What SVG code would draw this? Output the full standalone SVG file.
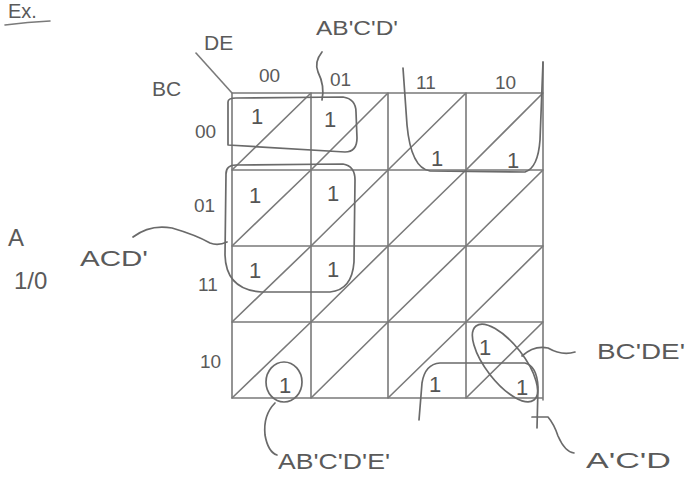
<svg xmlns="http://www.w3.org/2000/svg" width="687" height="477" viewBox="0 0 687 477">
<style>
.t{font-family:"Liberation Sans",Arial,sans-serif;fill:#5a5a5a;}
.g{stroke:#7a7a7a;stroke-width:1.6;fill:none;stroke-linecap:round;}
.lp{stroke:#6a6a6a;stroke-width:1.7;fill:none;stroke-linecap:round;stroke-linejoin:round;}
.one{font-family:"Liberation Sans",Arial,sans-serif;fill:#555;font-size:22px;text-anchor:middle;}
</style>
<rect width="687" height="477" fill="#ffffff"/>

<g id="title">
<text class="t" x="8" y="18" font-size="20">Ex.</text>
<path class="g" d="M5 25 Q28 22 50 21"/>
</g>

<g id="grid">
<path class="g" d="M232 93V398 M311 93V398 M388 93V398 M466 93V398 M543 62V400 M232 93H543 M232 170H543 M232 246H543 M232 322H543 M232 398H543"/>
<path class="g" d="M232 170L311 93 M311 170L388 93 M388 170L466 93 M466 170L543 93
M232 246L311 170 M311 246L388 170 M388 246L466 170 M466 246L543 170
M232 322L311 246 M311 322L388 246 M388 322L466 246 M466 322L543 246
M232 398L311 322 M311 398L388 322 M388 398L466 322 M466 398L543 322"/>
<path class="g" d="M196 53L232 93"/>
</g>

<g id="axis-labels">
<text class="t" x="204" y="50" font-size="21">DE</text>
<text class="t" x="152" y="96" font-size="21">BC</text>
<text class="t" x="259" y="82" font-size="19">00</text>
<text class="t" x="330" y="86" font-size="19">01</text>
<text class="t" x="416" y="89" font-size="19">11</text>
<text class="t" x="495" y="89" font-size="19">10</text>
<text class="t" x="195" y="138" font-size="19">00</text>
<text class="t" x="194" y="212" font-size="19">01</text>
<text class="t" x="198" y="291" font-size="19">11</text>
<text class="t" x="200" y="368" font-size="19">10</text>
<text class="t" x="8" y="246" font-size="24">A</text>
<text class="t" x="14" y="289" font-size="24">1/0</text>
</g>

<g id="ones">
<text class="one" x="257" y="124">1</text>
<text class="one" x="330" y="127">1</text>
<text class="one" x="437" y="166">1</text>
<text class="one" x="513" y="168">1</text>
<text class="one" x="255" y="203">1</text>
<text class="one" x="333" y="201">1</text>
<text class="one" x="255" y="278">1</text>
<text class="one" x="333" y="277">1</text>
<text class="one" x="285" y="393">1</text>
<text class="one" x="435" y="392">1</text>
<text class="one" x="485" y="355">1</text>
<text class="one" x="522" y="395">1</text>
</g>

<g id="loop-ABCD">
<path class="lp" d="M228 102 Q228 98 236 98 L343 97 Q356 99 356 112 L357 138 Q357 152 345 152 L228 145 L228 102"/>
</g>
<g id="loop-ACD">
<path class="lp" d="M226 174 Q226 165 236 165 L343 164 Q355 166 355 180 L354 262 Q352 290 330 292 L262 292 Q226 290 225 255 Z"/>
</g>
<g id="loop-top-right">
<path class="lp" d="M403 68 L407 125 Q411 168 430 171 L525 172 Q538 168 540 140 L543 62"/>
</g>
<g id="loop-single">
<ellipse class="lp" cx="284" cy="382" rx="18" ry="20"/>
</g>
<g id="loop-BCDE">
<ellipse class="lp" cx="505" cy="363" rx="47" ry="19" transform="rotate(52 505 363)"/>
</g>
<g id="loop-ACD-bottom">
<path class="lp" d="M419 420 L422 383 Q425 364 440 363 L525 363 Q537 366 538 387 L537 428"/>
</g>

<g id="connectors">
<path class="lp" d="M322 52 Q314 62 318 72 Q325 86 322 100"/>
<path class="lp" d="M133 237 Q150 224 172 228 Q196 235 210 243 Q218 246 227 242"/>
<path class="lp" d="M275 403 Q263 415 265 435 Q268 452 277 455"/>
<path class="lp" d="M522 356 Q534 345 548 348 Q562 356 575 352"/>
<path class="lp" d="M532 417 L548 417 Q554 424 558 436 Q565 452 574 453"/>
</g>

<g id="term-labels">
<text class="t" x="316" y="35" font-size="20" textLength="82" lengthAdjust="spacingAndGlyphs">AB'C'D'</text>
<text class="t" x="80" y="266" font-size="22" textLength="68" lengthAdjust="spacingAndGlyphs">ACD'</text>
<text class="t" x="597" y="359" font-size="22" textLength="88" lengthAdjust="spacingAndGlyphs">BC'DE'</text>
<text class="t" x="586" y="468" font-size="22" textLength="85" lengthAdjust="spacingAndGlyphs">A'C'D</text>
<text class="t" x="278" y="469" font-size="22" textLength="112" lengthAdjust="spacingAndGlyphs">AB'C'D'E'</text>
</g>
</svg>
